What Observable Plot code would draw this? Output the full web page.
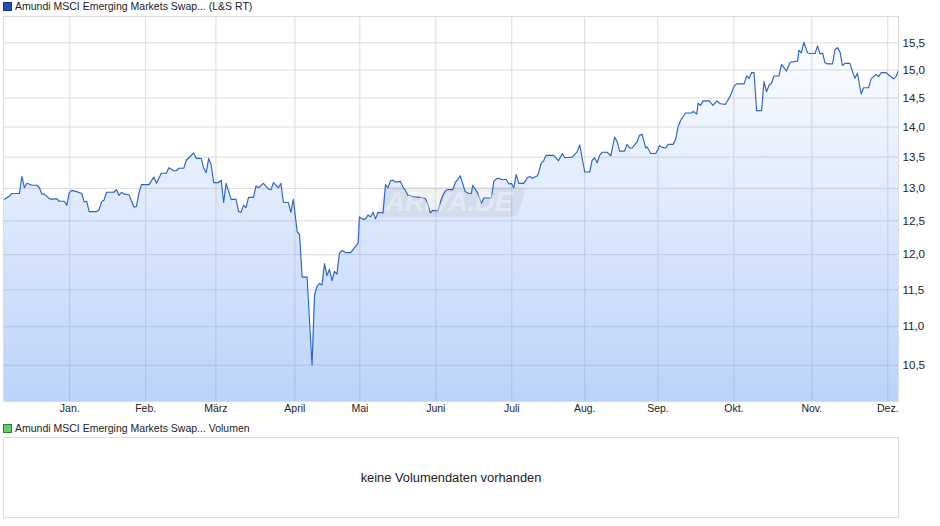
<!DOCTYPE html>
<html lang="de">
<head>
<meta charset="utf-8">
<script src="https://cdn.jsdelivr.net/npm/d3@7"></script>
<script src="https://cdn.jsdelivr.net/npm/@observablehq/plot@0.6"></script>
<style>
  html,body{margin:0;padding:0;background:#fff;}
  #page{position:relative;width:940px;height:526px;overflow:hidden;font-family:"Liberation Sans",Arial,sans-serif;color:#222;}
  #plot{position:absolute;left:0;top:0;}
  .legend{position:absolute;left:3px;font-size:10.5px;line-height:12px;white-space:pre;}
  .legend i{display:inline-block;width:7px;height:7px;border:1px solid;margin-right:3px;vertical-align:-0.5px;}
  #volbox{position:absolute;left:3px;top:437px;width:894px;height:79px;border:1px solid #ddd;display:flex;align-items:center;justify-content:center;font-size:12.85px;color:#222;}
  #mark{position:absolute;left:381px;top:187px;width:141px;height:30px;background:rgba(90,90,90,.09);transform:skewX(-16deg);border-radius:0 6px 6px 0;}
  #marktext{position:absolute;left:384px;top:187px;width:130px;height:30px;line-height:31px;text-align:center;font-size:27px;font-weight:bold;font-style:italic;color:rgba(255,255,255,.38);}
</style>
</head>
<body>
<div id="page">
  <div class="legend" style="top:0px"><i style="background:#1c50b4;border-color:#12357a"></i>Amundi MSCI Emerging Markets Swap... (L&amp;S RT)</div>
  <div id="plot"></div>
  <div id="mark"></div><div id="marktext">ARIVA.DE</div>
  <div class="legend" style="top:422px"><i style="background:#5fd068;border-color:#2f7a37"></i>Amundi MSCI Emerging Markets Swap... Volumen</div>
  <div id="volbox">keine Volumendaten vorhanden</div>
</div>
<script>
const days = [
  0,2,3,6,7,8,9,11,13,14,
  15,16,18,19,21,22,24,25,26,27,
  29,31,32,33,34,37,38,39,40,41,
  44,45,46,47,48,50,52,53,54,55,
  58,60,61,63,65,66,68,69,70,72,
  73,74,76,77,79,80,81,82,83,84,
  86,87,88,89,91,93,94,95,96,97,
  98,100,101,102,104,106,107,108,110,111,
  112,114,115,116,117.5,118.5,119.5,121.5,123.5,124.5,
  125.5,126.5,127.5,128.5,129.5,130.5,131.5,132.5,133.5,134.5,
  135.5,137,139,142,142.5,144,145,146,147,148,
  149,150,152,153,154,155,156,157,159,160,
  161,162,163,164,167,169,170,171,172,174,
  175,176,177,178,180,181,182,183,185,186.5,
  187.5,188,190,191.5,192.5,195.5,196.5,197.5,198.5,199.5,
  201.5,202.5,203.5,204.5,205.5,206.5,208.5,210,211,212,
  214,214.5,215.5,216.5,217.5,220.5,222.5,224,225,228,
  230,231,233,235,236,237,238,239,240,242,
  243.5,245,246,247,249,250,251,252,254,255,
  256,257.5,258,259.5,261.5,262.5,263,264,265.5,266.5,
  268.5,269.5,270.5,271.5,272.5,273.5,276,276.5,278,278.5,
  279.5,280.5,283,284.5,286,287.5,289.5,291.5,293,294,
  297,298,299,300,301,302,304,305,306,307,
  308,309,311,312,314,315.5,318.5,319,320,321,
  322.5,323.5,325.5,326.5,327.5,328.5,329.5,330.5,332.5,333.5,
  334.5,335.5,336.5,337.5,339.5,340.5,341.5,342.5,344,345,
  347,348,350,351,352,354,357,358,359
];
const prices = [
  12.83,12.88,12.92,12.92,13.19,13.01,13.08,13.05,13.05,13.01,
  12.91,12.91,12.84,12.83,12.84,12.80,12.80,12.74,12.93,12.97,
  12.95,12.92,12.79,12.80,12.64,12.64,12.67,12.79,12.82,12.94,
  12.94,12.98,12.89,12.94,12.91,12.90,12.71,12.72,12.93,13.06,
  13.06,13.18,13.08,13.24,13.24,13.33,13.28,13.28,13.32,13.32,
  13.45,13.49,13.57,13.48,13.48,13.32,13.25,13.48,13.37,13.09,
  13.09,13.13,12.78,13.08,12.83,12.83,12.64,12.63,12.74,12.70,
  12.86,12.86,13.04,13.01,13.08,12.99,12.98,13.09,13.01,13.08,
  12.78,12.78,12.63,12.83,12.34,12.29,11.68,11.68,10.50,11.43,
  11.55,11.59,11.57,11.87,11.70,11.79,11.63,11.76,11.72,12.02,
  12.06,12.03,12.03,12.17,12.56,12.52,12.53,12.59,12.56,12.63,
  12.53,12.63,12.62,13.06,13.01,13.12,13.13,13.10,13.11,13.02,
  12.97,12.89,12.89,12.87,12.86,12.84,12.76,12.62,12.66,12.65,
  12.78,12.89,12.96,12.98,12.98,13.09,13.14,13.20,12.95,12.92,
  12.92,13.05,12.93,12.77,12.85,12.85,13.11,13.15,13.16,13.14,
  13.14,13.07,13.08,13.01,13.22,13.08,13.08,13.17,13.19,13.16,
  13.20,13.25,13.40,13.44,13.53,13.53,13.44,13.56,13.49,13.50,
  13.59,13.70,13.26,13.26,13.45,13.49,13.41,13.53,13.58,13.58,
  13.52,13.83,13.76,13.60,13.60,13.71,13.65,13.65,13.75,13.86,
  13.88,13.65,13.67,13.56,13.56,13.63,13.69,13.66,13.65,13.71,
  13.71,13.79,14.01,14.11,14.18,14.24,14.24,14.27,14.22,14.41,
  14.37,14.45,14.45,14.37,14.45,14.40,14.39,14.54,14.71,14.75,
  14.75,14.89,14.85,14.95,14.95,14.28,14.28,14.79,14.61,14.72,
  14.76,14.89,14.89,15.10,14.98,15.14,15.16,15.36,15.31,15.51,
  15.31,15.30,15.30,15.44,15.29,15.31,15.13,15.11,15.11,15.37,
  15.41,15.33,15.08,15.12,15.12,14.97,14.85,14.94,14.57,14.68,
  14.68,14.84,14.92,14.88,14.95,14.95,14.84,14.88,14.99
];
const monthLabels = ["Jan.","Feb.","März","April","Mai","Juni","Juli","Aug.","Sep.","Okt.","Nov.","Dez."];
const monthDays = [26.2,56.7,84.9,116.6,142.7,173.2,203.7,233,262.4,292.9,324.2,354.7];
const priceTicks = [10.5,11,11.5,12,12.5,13,13.5,14,14.5,15,15.5];

const rows = days.map((d,i)=>({d,p:prices[i]}));
if (days.length !== prices.length) console.error("length mismatch", days.length, prices.length);
const yMin = 10.05, yMax = 16;
const gridColor = "#dcdcdc";

const gradient = () => {
  const svg = d3.create("svg:g");
  const g = svg.append("defs").append("linearGradient")
    .attr("id","areaFill").attr("x1",0).attr("x2",0).attr("y1",0).attr("y2",1);
  g.append("stop").attr("offset","0%").attr("stop-color","#5a93f2").attr("stop-opacity",0.02);
  g.append("stop").attr("offset","100%").attr("stop-color","#5a93f2").attr("stop-opacity",0.41);
  return svg.node();
};

const chart = Plot.plot({
  width: 940, height: 416,
  marginLeft: 3, marginRight: 42, marginTop: 16, marginBottom: 15,
  style: {fontFamily:'"Liberation Sans",Arial,sans-serif', background:"transparent", overflow:"visible"},
  x: {type:"linear", domain:[-0.4,359]},
  y: {type:"log", domain:[yMin,yMax]},
  marks: [
    gradient,
    Plot.ruleY(priceTicks,{stroke:gridColor,strokeWidth:1,strokeOpacity:1}),
    Plot.ruleX(monthDays,{stroke:gridColor,strokeWidth:1,strokeOpacity:1}),
    Plot.areaY(rows,{x:"d",y1:()=>yMin,y2:"p",fill:"url(#areaFill)"}),
    Plot.lineY(rows,{x:"d",y:"p",stroke:"#2b65c4",strokeWidth:1.15,curve:"linear"}),
    Plot.frame({stroke:gridColor,strokeWidth:1}),
    Plot.axisY(priceTicks,{anchor:"right",tickSize:0,tickPadding:4,label:null,fontSize:11.6,fill:"#222",
      tickFormat:v=>d3.format(".1f")(v).replace(".",",")}),
    Plot.axisX(monthDays,{anchor:"bottom",tickSize:0,tickPadding:3,label:null,fontSize:10.5,fill:"#222",
      tickFormat:(v,i)=>monthLabels[i]})
  ]
});
document.getElementById("plot").appendChild(chart);
</script>
</body>
</html>
